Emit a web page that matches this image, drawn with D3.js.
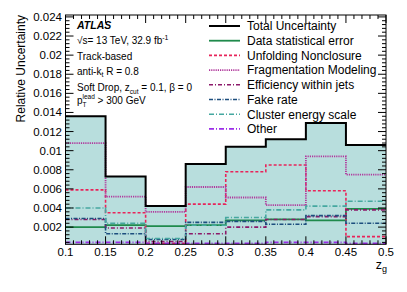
<!DOCTYPE html>
<html><head><meta charset="utf-8">
<script src="https://cdn.jsdelivr.net/npm/d3@7"></script>
<style>body{margin:0;background:#fff}svg{display:block;font-family:"Liberation Sans",Arial,Helvetica,sans-serif}</style>
</head><body><svg id="c" width="407" height="292"></svg>
<script>
const binEdges = [0.1,0.15,0.2,0.25,0.3,0.35,0.4,0.45,0.5];
const totalUnc   = [0.0136,0.0073,0.0042,0.0086,0.0104,0.0112,0.0129,0.0106];
const dataStat   = [0.0020,0.0022,0.0021,0.0022,0.0027,0.0028,0.0027,0.0039];
const unfolding  = [0.0059,0.0035,0.0003,0.0044,0.0078,0.0085,0.0058,0.0010];
const fragment   = [0.0108,0.0052,0.0036,0.0062,0.0051,0.0043,0.0094,0.0075];
const efficiency = [0.0028,0.0019,0.0005,0.0013,0.0020,0.0028,0.0031,0.0038];
const fakeRate   = [0.0029,0.0013,0.0007,0.0025,0.0026,0.0023,0.0032,0.0024];
const cluster    = [0.0040,0.0024,0.0008,0.0022,0.0030,0.0038,0.0042,0.0047];
const other      = [0.0004,0.0004,0.0003,0.0003,0.0003,0.0004,0.0004,0.0003];
const seriesNames = ["Total Uncertainty","Data statistical error","Unfolding Nonclosure","Fragmentation Modeling","Efficiency within jets","Fake rate","Cluster energy scale","Other"];
const xTickValues = [0.1,0.15,0.2,0.25,0.3,0.35,0.4,0.45,0.5];
const xTickLabels = ["0.1","0.15","0.2","0.25","0.3","0.35","0.4","0.45","0.5"];
const yTickValues = [0.002,0.004,0.006,0.008,0.01,0.012,0.014,0.016,0.018,0.02,0.022,0.024];
const yTickLabels = ["0.002","0.004","0.006","0.008","0.01","0.012","0.014","0.016","0.018","0.02","0.022","0.024"];

const svg = d3.select("#c");
const L=65.5,R=386,T=15,B=244.3;
const x = d3.scaleLinear().domain([0.1,0.5]).range([L,R]);
const y = d3.scaleLinear().domain([0.0002,0.0242]).range([B,T]);

const styles = [
  {data:totalUnc,color:"#000",w:2,dash:null},
  {data:dataStat,color:"#1f8a4c",w:1.8,dash:null},
  {data:unfolding,color:"#e8245a",w:1.6,dash:"3,2"},
  {data:fragment,color:"#b0389c",w:1.8,dash:"1.2,1"},
  {data:efficiency,color:"#8c1a6a",w:1.6,dash:"4,2,1,2"},
  {data:fakeRate,color:"#1d4e7e",w:1.6,dash:"4,1.5,1,1.5"},
  {data:cluster,color:"#45a8a0",w:1.6,dash:"5,2,1,2"},
  {data:other,color:"#9b2ee8",w:1.8,dash:"5,2,1,2"}
];

function stepPts(vals){
  const pts=[];
  vals.forEach((v,i)=>{pts.push([binEdges[i],v]);pts.push([binEdges[i+1],v]);});
  return pts;
}
svg.append("defs").append("clipPath").attr("id","cp").append("rect")
  .attr("x",L).attr("y",T).attr("width",R-L).attr("height",B-T);
const g = svg.append("g").attr("clip-path","url(#cp)");
const area = d3.area().x(d=>x(d[0])).y0(B).y1(d=>y(d[1]));
g.append("path").datum(stepPts(totalUnc)).attr("d",area).attr("fill","#b8dedd");
const line = d3.line().x(d=>x(d[0])).y(d=>y(d[1]));
styles.slice(1).concat([styles[0]]).forEach(s=>{
  g.append("path").datum(stepPts(s.data)).attr("d",line).attr("fill","none")
   .attr("stroke",s.color).attr("stroke-width",s.w).attr("stroke-dasharray",s.dash);
});

const ax = svg.append("g").attr("stroke","#000").attr("stroke-width",1);
ax.append("rect").attr("x",L).attr("y",T).attr("width",R-L).attr("height",B-T).attr("fill","none");
const yMinor = d3.range(0.0004,0.02401,0.0004);
yMinor.forEach(v=>{
  const major = yTickValues.some(t=>Math.abs(t-v)<1e-9);
  const len = major?8:4;
  ax.append("line").attr("x1",L).attr("x2",L+len).attr("y1",y(v)).attr("y2",y(v));
  ax.append("line").attr("x1",R).attr("x2",R-len).attr("y1",y(v)).attr("y2",y(v));
});
const xMinor = d3.range(0.1,0.5001,0.01);
xMinor.forEach(v=>{
  const major = xTickValues.some(t=>Math.abs(t-v)<1e-9);
  const len = major?8:4;
  ax.append("line").attr("y1",B).attr("y2",B-len).attr("x1",x(v)).attr("x2",x(v));
  ax.append("line").attr("y1",T).attr("y2",T+len).attr("x1",x(v)).attr("x2",x(v));
});
const fs = 11.5;
yTickValues.forEach((v,i)=>{
  svg.append("text").attr("x",62).attr("y",y(v)+4).attr("text-anchor","end")
    .attr("font-size",fs).text(yTickLabels[i]);
});
xTickValues.forEach((v,i)=>{
  svg.append("text").attr("x",x(v)).attr("y",B+12).attr("text-anchor","middle")
    .attr("font-size",fs).text(xTickLabels[i]);
});
svg.append("text").attr("transform","translate(25,"+T+") rotate(-90)").attr("text-anchor","end")
  .attr("font-size",12).text("Relative Uncertainty");
const zt = svg.append("text").attr("x",387).attr("y",269).attr("text-anchor","end").attr("font-size",12.5);
zt.append("tspan").text("z");
zt.append("tspan").attr("font-size",9).attr("dy",3).text("g");

const ax0 = 77, afs = 10;
svg.append("text").attr("x",ax0).attr("y",29).attr("font-size",10.5).attr("font-weight","bold").attr("font-style","italic").text("ATLAS");
const t1 = svg.append("text").attr("x",ax0).attr("y",44).attr("font-size",afs);
t1.append("tspan").text("√s= 13 TeV, 32.9 fb");
t1.append("tspan").attr("font-size",7).attr("dy",-4).text("-1");
svg.append("text").attr("x",ax0).attr("y",60).attr("font-size",afs).text("Track-based");
const t3 = svg.append("text").attr("x",ax0).attr("y",75).attr("font-size",afs);
t3.append("tspan").text("anti-k");
t3.append("tspan").attr("font-size",7).attr("dy",2).text("t");
t3.append("tspan").attr("dy",-2).text(" R = 0.8");
const t4 = svg.append("text").attr("x",ax0).attr("y",91).attr("font-size",afs);
t4.append("tspan").text("Soft Drop, z");
t4.append("tspan").attr("font-size",6.5).attr("dy",3).text("cut");
t4.append("tspan").attr("dy",-3).text(" = 0.1, β = 0");
const t5 = svg.append("text").attr("x",ax0).attr("y",104).attr("font-size",afs);
t5.append("tspan").text("p");
t5.append("tspan").attr("font-size",6.5).attr("dy",3).text("T");
t5.append("tspan").attr("font-size",6.5).attr("dy",-8).attr("dx",-4).text("lead");
t5.append("tspan").attr("dy",5).text(" > 300 GeV");

const legY0 = 26, legDy = 14.7;
styles.forEach((s,i)=>{
  const yy = legY0 + i*legDy;
  svg.append("line").attr("x1",209).attr("x2",240).attr("y1",yy).attr("y2",yy)
    .attr("stroke",s.color).attr("stroke-width",s.w).attr("stroke-dasharray",s.dash);
  svg.append("text").attr("x",247).attr("y",yy+4.3).attr("font-size",12).text(seriesNames[i]);
});
</script></body></html>
